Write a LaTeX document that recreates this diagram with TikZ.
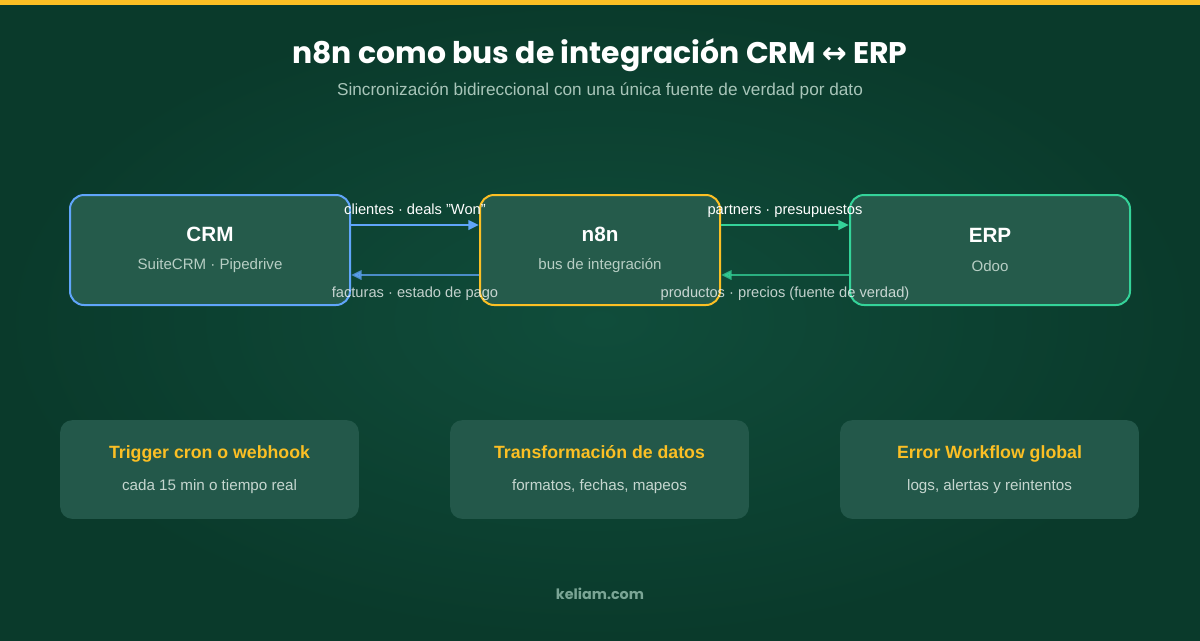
\documentclass[tikz,border=0pt]{standalone}
\usepackage{fontspec}
\setmainfont{Liberation Sans}
\newfontfamily\headfont{Poppins}
\newfontfamily\symbfont{DejaVu Sans}
\usetikzlibrary{arrows.meta, positioning}

\definecolor{bgmid}{HTML}{104D3B}
\definecolor{bgdark}{HTML}{0A3A2B}
\definecolor{barcol}{HTML}{FBBF24}
\definecolor{boxfill}{HTML}{255B4B}
\definecolor{cardfill}{HTML}{23584A}
\definecolor{crmblue}{HTML}{60A5FA}
\definecolor{erpgreen}{HTML}{34D399}
\definecolor{subtxt}{HTML}{A8C5B9}
\definecolor{boxsub}{HTML}{B7CEC4}
\definecolor{cardsub}{HTML}{C5D6CF}
\definecolor{footcol}{HTML}{7AA595}

\newcommand{\boxsubline}[1]{{\fontsize{11.3}{14}\selectfont\mdseries\color{boxsub}#1}}
\newcommand{\cardsubline}[1]{{\fontsize{11.4}{14}\selectfont\mdseries\color{cardsub}#1}}

\begin{document}
\begin{tikzpicture}[x=0.75pt, y=-0.75pt,
  node distance=96pt,
  sysbox/.style={rectangle, rounded corners=10.5pt, minimum width=210pt, minimum height=82.5pt,
    line width=1.5pt, fill=boxfill, text=white, align=center,
    font=\fontsize{15.5}{18}\selectfont\bfseries},
  cardbox/.style={rectangle, rounded corners=9pt, minimum width=224pt, minimum height=74pt,
    fill=cardfill, text=barcol, align=center,
    font=\fontsize{13.3}{15.5}\selectfont\bfseries},
  arrowlbl/.style={font=\fontsize{11}{13}\selectfont, text=white, text height=8pt,
    text depth=2.3pt, inner sep=0pt},
  flow/.style={line width=1.9pt, -{Triangle[length=8pt, width=7pt]}},
  backflow/.style={flow, opacity=0.75}
]
\useasboundingbox (0,0) rectangle (1200,640);

% background and top bar
\shade[inner color=bgmid, outer color=bgdark] (0,0) rectangle (1200,640);
\fill[barcol] (0,0) rectangle (1200,5);

% heading
\node (title) [anchor=base, text=white, font=\headfont\fontsize{22.4}{26}\selectfont\bfseries]
  at (600,63) {n8n como bus de integración CRM {\symbfont↔} ERP};
\node (subtitle) [anchor=base, text=subtxt, font=\fontsize{12.9}{15}\selectfont]
  at (600,95) {Sincronización bidireccional con una única fuente de verdad por dato};

% systems
\node (crm) [sysbox, draw=crmblue] at (210,250) {CRM\\[3.5pt]\boxsubline{SuiteCRM · Pipedrive}};
\node (n8n) [sysbox, draw=barcol, minimum width=180pt, right=of crm] {n8n\\[3.5pt]\boxsubline{bus de integración}};
\node (erp) [sysbox, draw=erpgreen, right=of n8n] {ERP\\[3.5pt]\boxsubline{Odoo}};

% data flows
\draw[flow, crmblue] ([yshift=18.75pt]crm.east) -- ([yshift=18.75pt]n8n.west)
  node[midway, above=4.5pt, arrowlbl] (lblclientes) {clientes · deals "Won"};
\draw[backflow, crmblue] ([yshift=-18.75pt]n8n.west) -- ([yshift=-18.75pt]crm.east)
  node[midway, below=8pt, arrowlbl] (lblfacturas) {facturas · estado de pago};
\draw[flow, erpgreen] ([yshift=18.75pt]n8n.east) -- ([yshift=18.75pt]erp.west)
  node[midway, above=4.5pt, arrowlbl] (lblpartners) {partners · presupuestos};
\draw[backflow, erpgreen] ([yshift=-18.75pt]erp.west) -- ([yshift=-18.75pt]n8n.east)
  node[midway, below=8pt, arrowlbl] (lblproductos) {productos · precios (fuente de verdad)};

% feature cards
\node (trigger) [cardbox] at (209.5,469.5) {Trigger cron o webhook\\[8pt]\cardsubline{cada 15 min o tiempo real}};
\node (transform) [cardbox] at (599.5,469.5) {Transformación de datos\\[8pt]\cardsubline{formatos, fechas, mapeos}};
\node (errflow) [cardbox] at (989.5,469.5) {Error Workflow global\\[8pt]\cardsubline{logs, alertas y reintentos}};

% footer
\node (footer) [anchor=base, text=footcol, font=\headfont\fontsize{10.75}{13}\selectfont\bfseries]
  at (600,599) {keliam.com};

\end{tikzpicture}
\end{document}
